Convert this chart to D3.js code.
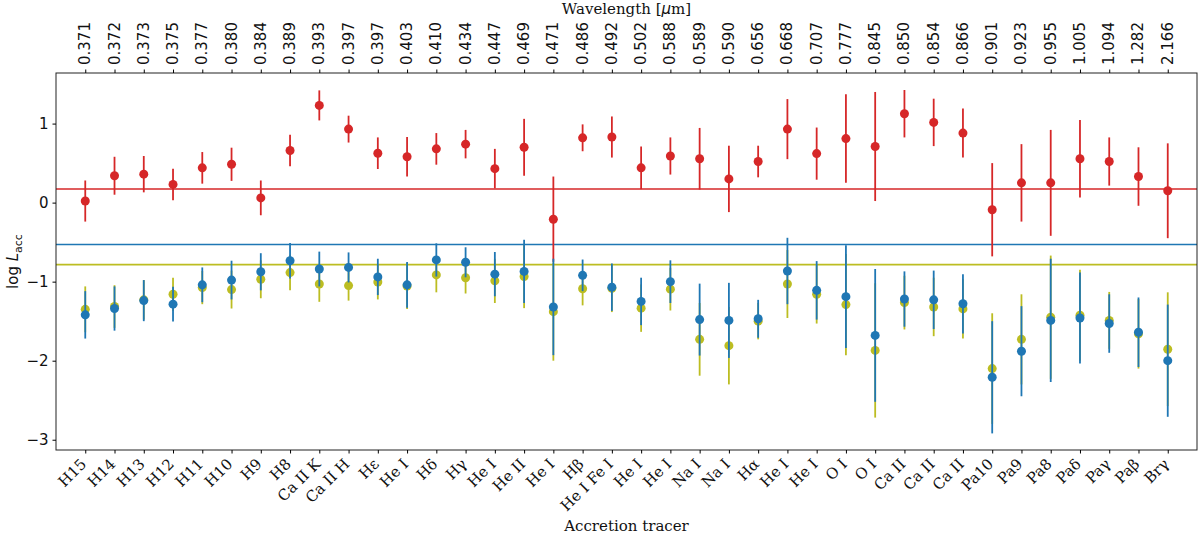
<!DOCTYPE html>
<html>
<head>
<meta charset="utf-8">
<script src="https://cdn.jsdelivr.net/npm/d3@7"></script>
<style>
  body { margin: 0; background: #fff; }
  svg { display: block; }
</style>
</head>
<body>
<svg width="1200" height="539"></svg>
<script>
// Accretion tracers (bottom axis) and their wavelengths (top axis)
const tracers = ["H15", "H14", "H13", "H12", "H11", "H10", "H9", "H8", "Ca II K", "Ca II H",
    "Hε", "He I", "Hδ", "Hγ", "He I", "He II", "He I", "Hβ", "He I Fe I", "He I",
    "He I", "Na I", "Na I", "Hα", "He I", "He I", "O I", "O I", "Ca II", "Ca II",
    "Ca II", "Pa10", "Pa9", "Pa8", "Paδ", "Paγ", "Paβ", "Brγ"];
const wavelengths = ["0.371", "0.372", "0.373", "0.375", "0.377", "0.380", "0.384", "0.389", "0.393", "0.397",
    "0.397", "0.403", "0.410", "0.434", "0.447", "0.469", "0.471", "0.486", "0.492", "0.502",
    "0.588", "0.589", "0.590", "0.656", "0.668", "0.707", "0.777", "0.845", "0.850", "0.854",
    "0.866", "0.901", "0.923", "0.955", "1.005", "1.094", "1.282", "2.166"];

// red series
const redVal = [0.02, 0.34, 0.36, 0.23, 0.44, 0.485, 0.06, 0.66, 1.23, 0.93,
    0.625, 0.58, 0.68, 0.74, 0.43, 0.70, -0.21, 0.82, 0.83, 0.44,
    0.59, 0.555, 0.30, 0.52, 0.93, 0.62, 0.81, 0.71, 1.125, 1.015,
    0.88, -0.09, 0.25, 0.25, 0.555, 0.52, 0.33, 0.15];
const redErr = [0.26, 0.24, 0.23, 0.20, 0.20, 0.21, 0.22, 0.20, 0.19, 0.17,
    0.20, 0.25, 0.20, 0.18, 0.25, 0.36, 0.54, 0.17, 0.26, 0.27,
    0.235, 0.39, 0.42, 0.20, 0.38, 0.33, 0.56, 0.69, 0.30, 0.30,
    0.31, 0.59, 0.49, 0.67, 0.49, 0.305, 0.37, 0.60];

// olive series
const oliveVal = [-1.35, -1.315, -1.23, -1.16, -1.075, -1.10, -0.97, -0.885, -1.03, -1.05,
    -1.005, -1.055, -0.915, -0.95, -0.99, -0.935, -1.38, -1.09, -1.085, -1.335,
    -1.095, -1.73, -1.81, -1.50, -1.03, -1.16, -1.29, -1.87, -1.265, -1.32,
    -1.345, -2.10, -1.73, -1.45, -1.425, -1.49, -1.66, -1.855];
const oliveErr = [0.29, 0.27, 0.25, 0.21, 0.21, 0.24, 0.24, 0.225, 0.225, 0.19,
    0.22, 0.29, 0.22, 0.20, 0.28, 0.40, 0.62, 0.21, 0.30, 0.30,
    0.27, 0.46, 0.49, 0.23, 0.43, 0.37, 0.64, 0.85, 0.34, 0.37,
    0.375, 0.70, 0.57, 0.78, 0.575, 0.36, 0.44, 0.72];

// blue series
const blueVal = [-1.42, -1.34, -1.24, -1.285, -1.04, -0.98, -0.875, -0.735, -0.84, -0.82,
    -0.94, -1.04, -0.725, -0.755, -0.905, -0.87, -1.32, -0.92, -1.07, -1.25,
    -1.00, -1.48, -1.49, -1.47, -0.865, -1.11, -1.19, -1.68, -1.22, -1.23,
    -1.28, -2.21, -1.88, -1.49, -1.46, -1.53, -1.64, -2.00];
const blueErr = [0.30, 0.28, 0.26, 0.22, 0.22, 0.245, 0.235, 0.225, 0.22, 0.19,
    0.23, 0.29, 0.21, 0.19, 0.28, 0.40, 0.61, 0.20, 0.30, 0.30,
    0.27, 0.455, 0.475, 0.24, 0.42, 0.37, 0.65, 0.84, 0.35, 0.37,
    0.375, 0.71, 0.57, 0.78, 0.575, 0.37, 0.44, 0.71];

// mean levels
const redMean = 0.173, blueMean = -0.53, oliveMean = -0.784;
const yTicks = [1, 0, -1, -2, -3];

const svg = d3.select("svg"),
    width = +svg.attr("width"),
    height = +svg.attr("height");

const margin = {left: 56, right: 3, top: 73, bottom: 89};
const x0 = margin.left, x1 = width - margin.right;
const y0 = margin.top, y1 = height - margin.bottom;

const x = d3.scaleLinear().domain([-1, tracers.length]).range([x0, x1]);
const y = d3.scaleLinear().domain([-3.13, 1.64]).range([y1, y0]);

const sans = "DejaVu Sans, sans-serif";
const serif = "DejaVu Serif, serif";

// horizontal mean lines
[[redMean, "#d62728"], [blueMean, "#1f77b4"], [oliveMean, "#bcbd22"]].forEach(([v, c]) => {
    svg.append("line")
        .attr("x1", x0).attr("x2", x1)
        .attr("y1", y(v)).attr("y2", y(v))
        .style("stroke", c)
        .style("stroke-width", 1.6);
});

// error bar series
function drawSeries(vals, errs, color) {
    const g = svg.append("g");
    const data = vals.map((v, i) => ({i, v, e: errs[i]}));
    g.selectAll("line")
        .data(data)
        .join("line")
        .attr("x1", d => x(d.i)).attr("x2", d => x(d.i))
        .attr("y1", d => y(d.v + d.e)).attr("y2", d => y(d.v - d.e))
        .style("stroke", color)
        .style("stroke-width", 1.8);
    g.selectAll("circle")
        .data(data)
        .join("circle")
        .attr("cx", d => x(d.i))
        .attr("cy", d => y(d.v))
        .attr("r", 4.5)
        .attr("fill", color);
}
drawSeries(redVal, redErr, "#d62728");
drawSeries(oliveVal, oliveErr, "#bcbd22");
drawSeries(blueVal, blueErr, "#1f77b4");

// frame
svg.append("rect")
    .attr("x", x0).attr("y", y0)
    .attr("width", x1 - x0).attr("height", y1 - y0)
    .style("fill", "none")
    .style("stroke", "#222")
    .style("stroke-width", 1);

// y axis
const yAxis = svg.append("g").attr("transform", `translate(${x0},0)`)
    .call(d3.axisLeft(y).tickValues(yTicks).tickSize(3.5).tickPadding(4)
        .tickFormat(d => d < 0 ? "\u2212" + Math.abs(d) : d));
yAxis.select(".domain").remove();
yAxis.selectAll("text").style("font-family", sans).style("font-size", "15px").attr("fill", "#111");

// bottom axis: tracer names, rotated 45 degrees
const idx = d3.range(tracers.length);
const xb = svg.append("g").attr("transform", `translate(0,${y1})`)
    .call(d3.axisBottom(x).tickValues(idx).tickSize(3.5).tickFormat(""));
xb.select(".domain").remove();
const labels = svg.append("g").selectAll("g")
    .data(idx)
    .join("g")
    .attr("transform", i => `translate(${x(i) + 2},${y1 + 15}) rotate(-45)`);
labels.append("text")
    .attr("text-anchor", "end")
    .style("font-family", serif)
    .style("font-size", "15px")
    .attr("fill", "#111")
    .text(i => tracers[i]);

// top axis: wavelengths
const xt = svg.append("g").attr("transform", `translate(0,${y0})`)
    .call(d3.axisTop(x).tickValues(idx).tickSize(3.5).tickFormat(""));
xt.select(".domain").remove();
svg.append("g").selectAll("text")
    .data(idx)
    .join("text")
    .attr("transform", i => `translate(${x(i) + 5},${y0 - 8}) rotate(-90)`)
    .attr("text-anchor", "start")
    .style("font-family", sans)
    .style("font-size", "15px")
    .attr("fill", "#111")
    .text(i => wavelengths[i]);

// axis titles
const topTitle = svg.append("text")
    .attr("x", (x0 + x1) / 2).attr("y", 14)
    .attr("text-anchor", "middle")
    .style("font-family", serif)
    .style("font-size", "15px")
    .attr("fill", "#111");
topTitle.append("tspan").text("Wavelength [");
topTitle.append("tspan").style("font-family", sans).style("font-style", "italic").text("μ");
topTitle.append("tspan").text("m]");

svg.append("text")
    .attr("x", (x0 + x1) / 2).attr("y", 531)
    .attr("text-anchor", "middle")
    .style("font-family", serif)
    .style("font-size", "15px")
    .attr("fill", "#111")
    .text("Accretion tracer");

const yl = svg.append("text")
    .attr("transform", `translate(18,${(y0 + y1) / 2}) rotate(-90)`)
    .attr("text-anchor", "middle")
    .style("font-family", sans)
    .style("font-size", "15px")
    .attr("fill", "#111");
yl.append("tspan").text("log ");
yl.append("tspan").style("font-style", "italic").text("L");
yl.append("tspan").attr("dy", 4).style("font-size", "11px").text("acc");
</script>
</body>
</html>
